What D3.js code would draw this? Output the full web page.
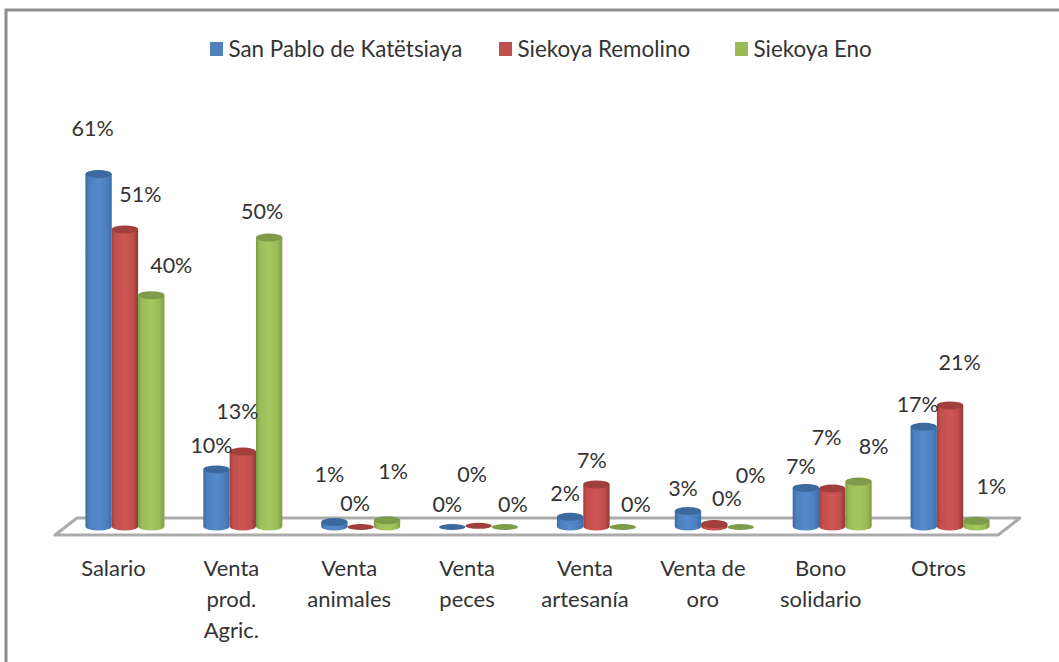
<!DOCTYPE html>
<html>
<head>
<meta charset="utf-8">
<script src="https://cdn.jsdelivr.net/npm/d3@7/dist/d3.min.js"></script>
<style>
html,body{margin:0;padding:0;background:#fff;overflow:hidden}
text{font-family:Lato,"Open Sans",sans-serif;fill:#333}
</style>
</head>
<body>
<svg id="chart" width="1059" height="662"></svg>
<script>
const categories = [["Salario"],["Venta","prod.","Agric."],["Venta","animales"],["Venta","peces"],["Venta","artesanía"],["Venta de","oro"],["Bono","solidario"],["Otros"]];
const seriesNames = ["San Pablo de Katëtsiaya","Siekoya Remolino","Siekoya Eno"];
const sanPablo = [61, 9.8, 0.7, 0, 1.6, 2.6, 6.6, 17.2];
const remolino = [51.4, 12.9, 0, 0.2, 7.2, 0.35, 6.5, 20.9];
const eno      = [40, 50, 1, 0, 0, 0, 7.7, 0.9];
const seriesValues = [sanPablo, remolino, eno];

const colors = [
  {edgeL:"#3b6a9f",mid:"#4c80bf",light:"#558acb",edgeR:"#3f6ea6",cap:"#3c6a9e"},
  {edgeL:"#a33f3c",mid:"#c24f4c",light:"#cc5653",edgeR:"#8f3836",cap:"#a03f3c"},
  {edgeL:"#7d9a45",mid:"#9bbd58",light:"#a4c75f",edgeR:"#7f9d47",cap:"#7f9a48"}
];
// label offsets from each bar's top centre, one row per category
const labelOffsets = [
  [[-6,-46],[15.5,-35],[20,-30]],
  [[-5,-24],[-5.5,-41],[-7,-26]],
  [[-5,-48],[-5.5,-23],[6,-49]],
  [[-5,-22],[-6.5,-51],[8,-22]],
  [[-5,-24],[-4.5,-24],[13,-22]],
  [[-5,-23],[12.5,-26],[10,-51]],
  [[-5,-22],[-5.5,-51],[15,-36]],
  [[-6,-23],[9.5,-43],[15,-35]]
];

const svg = d3.select("#chart");
const defs = svg.append("defs");
colors.forEach((c,i)=>{
  const g = defs.append("linearGradient").attr("id","bar"+i).attr("x1",0).attr("x2",1).attr("y1",0).attr("y2",0);
  [[0,c.edgeL],[.14,c.mid],[.5,c.light],[.8,c.mid],[1,c.edgeR]].forEach(s=>g.append("stop").attr("offset",s[0]).attr("stop-color",s[1]));
});

// frame
svg.append("path").attr("d","M6,662V10H1059").attr("fill","none").attr("stroke","#8c8c8c").attr("stroke-width",3);

const frontL=55, frontR=998, depthX=22, depthY=17, floorY=535;
const x0 = d3.scaleBand().domain(d3.range(categories.length)).range([frontL,frontR]);
const x1 = d3.scaleBand().domain(d3.range(3)).range([0,79]);
const y = d3.scaleLinear().domain([0,61]).range([526,174]);

// floor
const floor = d3.line()([[frontL,floorY],[frontR,floorY],[frontR+depthX,floorY-depthY],[frontL+depthX,floorY-depthY]]);
svg.append("path").attr("d",floor+"Z").attr("fill","#fff").attr("stroke","#ababab").attr("stroke-width",3).attr("stroke-linejoin","round");

// bars
const rows = [];
categories.forEach((c,i)=>seriesValues.forEach((s,j)=>rows.push({i,j,v:s[i]})));
const barX = d=>x0(d.i)+x0.bandwidth()/2-39.5+11+x1(d.j);
const w = x1.bandwidth();
const bars = svg.append("g").selectAll("g").data(rows).join("g");
bars.filter(d=>d.v>=0.3).append("path")
  .attr("d",d=>{
    const X=barX(d), Y=y(d.v), B=y(0)+0.5;
    return `M${X},${Y}V${B}A${w/2},4 0 0 0 ${X+w},${B}V${Y}Z`;
  })
  .attr("fill",d=>`url(#bar${d.j})`);
bars.append("ellipse")
  .attr("cx",d=>barX(d)+w/2)
  .attr("cy",d=>d.v<0.3? y(d.v)+1 : y(d.v))
  .attr("rx",w/2)
  .attr("ry",d=>d.v<0.3?3:4)
  .attr("fill",d=>colors[d.j].cap);

// data labels
svg.append("g").selectAll("text").data(rows).join("text")
  .attr("x",d=>barX(d)+w/2+labelOffsets[d.i][d.j][0])
  .attr("y",d=>y(d.v)+labelOffsets[d.i][d.j][1])
  .attr("text-anchor","middle").attr("dominant-baseline","central")
  .attr("font-size",21.5)
  .text(d=>Math.round(d.v)+"%");

// category labels
const cat = svg.append("g").selectAll("text").data(categories).join("text")
  .attr("text-anchor","middle").attr("font-size",22);
cat.selectAll("tspan").data((d,i)=>d.map((t,k)=>({t,k,i}))).join("tspan")
  .attr("x",d=>x0(d.i)+x0.bandwidth()/2-0.5)
  .attr("y",d=>576+d.k*31)
  .text(d=>d.t);

// legend
const legendX = d3.scaleOrdinal().domain(seriesNames).range([210,499,735]);
const leg = svg.append("g").selectAll("g").data(seriesNames).join("g")
  .attr("transform",d=>`translate(${legendX(d)},0)`);
leg.append("rect").attr("y",42).attr("width",13).attr("height",14)
  .attr("fill",(d,i)=>["#4f81bd","#c0504d","#9bbb59"][i]);
leg.append("text").attr("x",18.5).attr("y",57).attr("font-size",22.4).text(d=>d);
</script>
</body>
</html>
